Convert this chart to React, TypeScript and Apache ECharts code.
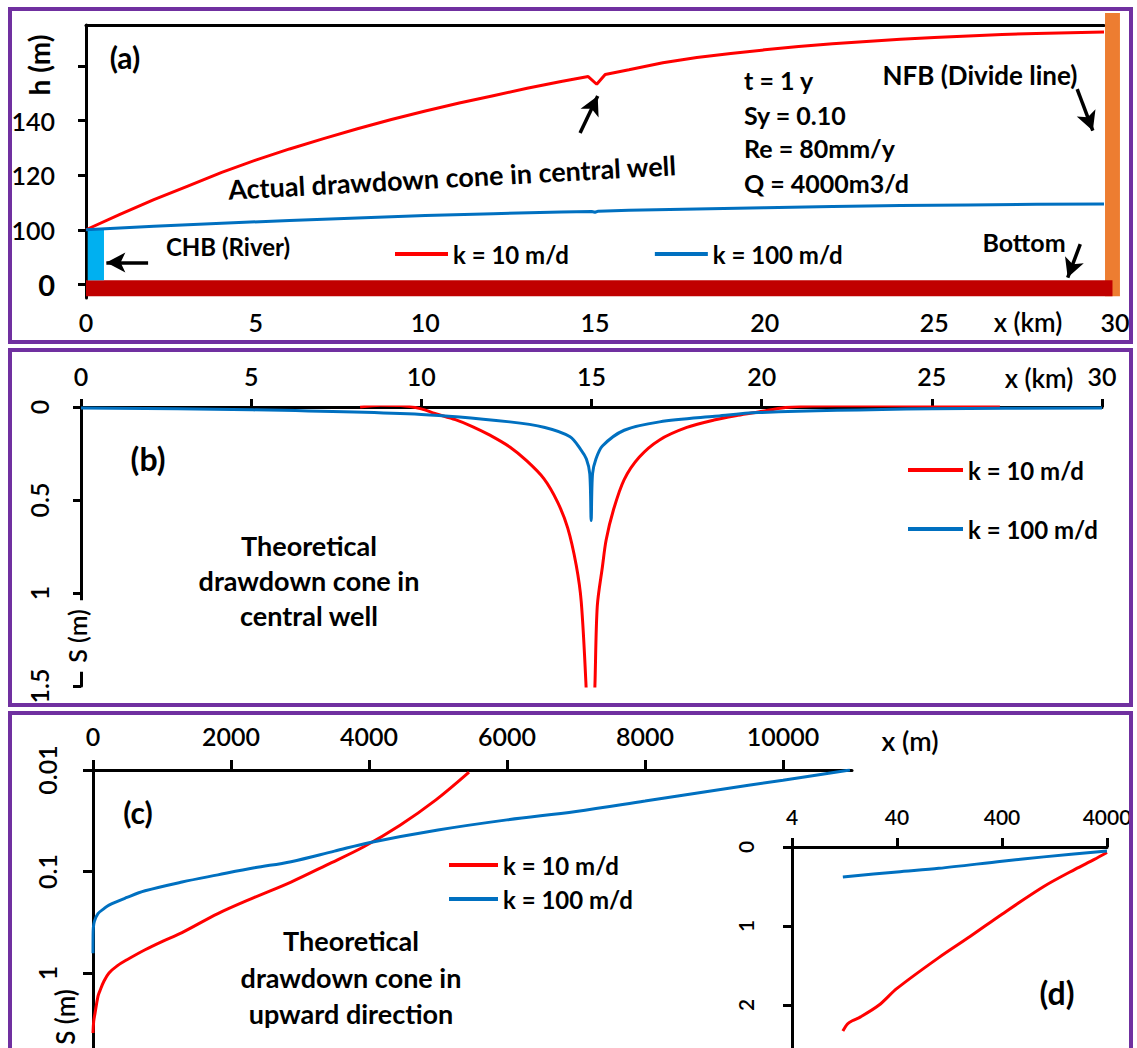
import React, { useEffect, useRef } from "react";
import * as echarts from "echarts";

// ---------- Panel (a): hydraulic head h (m) along x (km) ----------
const headK10: [number, number][] = [
  [0, 100], [1, 105.6], [2, 111], [3, 116], [4, 121], [5, 125.5], [6, 129.6], [7, 133.4],
  [8, 137], [9, 140.4], [10, 143.5], [11, 146.4], [12, 149.1], [13, 151.8], [14, 154.3],
  [14.8, 156.1], [15.05, 153.3], [15.3, 156.9], [16, 158.6], [17, 161.2], [18, 163.1],
  [19, 164.6], [20, 165.9], [21, 167.1], [22, 168.1], [23, 169], [24, 169.8], [25, 170.4],
  [26, 171], [27, 171.5], [28, 171.9], [29, 172.2], [30, 172.4],
];
const headK100: [number, number][] = [
  [0, 100], [2, 101.3], [4, 102.4], [6, 103.4], [8, 104.3], [10, 105.2], [12, 105.9],
  [14, 106.5], [14.9, 106.7], [15, 106.4], [15.1, 106.8], [16, 107.1], [18, 107.6],
  [20, 108.1], [22, 108.5], [24, 108.9], [26, 109.1], [28, 109.3], [30, 109.4],
];
// boundary blocks [x0 km, h0, x1 km, h1]: NFB, bottom, CHB
const boundaryBoxes: number[][] = [
  [30.03, 75.6, 30.47, 179.4],
  [0, 75.6, 30.25, 81.5],
  [0.05, 81.5, 0.53, 100],
];
const boundaryColors = ["#ED7D31", "#C00000", "#00B0F0"];
// arrows [x0, h0, x1, h1]
const arrowsA: number[][] = [
  [1.83, 88.0, 0.6, 88.0],
  [14.56, 135.4, 15.08, 149.0],
  [29.21, 151.5, 29.67, 136.3],
  [29.3, 94.7, 28.93, 82.5],
];
const hTicks = [80, 100, 120, 140, 160];
const hLabels = [80, 100, 120, 140];

// ---------- Panel (b): theoretical drawdown S (m) along x (km) ----------
const coneK10: [number, number][] = [
  [8.2, 0], [8.8, -0.01], [9.4, -0.008], [10, 0.01], [10.4, 0.035], [11, 0.068],
  [11.5, 0.105], [12, 0.15], [12.6, 0.215], [13.1, 0.29], [13.6, 0.385], [14, 0.51],
  [14.3, 0.65], [14.55, 0.85], [14.7, 1.05], [14.84, 1.5], [14.92, 1.9], [15.02, 1.9],
  [15.1, 1.5], [15.17, 1.07], [15.32, 0.86], [15.43, 0.715], [15.65, 0.55], [15.96, 0.39],
  [16.4, 0.27], [17, 0.177], [17.8, 0.11], [18.6, 0.07], [19.3, 0.045], [19.9, 0.027],
  [20.7, 0.003], [21.5, -0.005], [23, -0.008], [25, -0.006], [27, -0.003],
];
const coneK100: [number, number][] = [
  [0, 0.005], [5, 0.015], [10, 0.04], [12.6, 0.08], [13.63, 0.11], [14.37, 0.16],
  [14.69, 0.23], [14.85, 0.28], [14.95, 0.36], [14.99, 0.61], [15.03, 0.36], [15.13, 0.28],
  [15.32, 0.21], [15.96, 0.125], [17, 0.08], [18.63, 0.05], [19.9, 0.03], [25, 0.01],
  [30, 0.005],
];
const sTicksB = [0, 0.5, 1, 1.5];

// ---------- Panel (c): drawdown S (m) in upward direction, x (m) ----------
const upK10: [number, number][] = [
  [0, 3.9], [10, 3.0], [29, 2.5], [72, 1.7], [100, 1.5], [160, 1.2], [232, 1.0], [350, 0.85],
  [493, 0.74], [755, 0.59], [1000, 0.49], [1290, 0.4], [1810, 0.26], [2340, 0.18],
  [2870, 0.127], [3390, 0.086], [3925, 0.057], [4450, 0.035], [4970, 0.0197], [5450, 0.0105],
];
const upK100: [number, number][] = [
  [0, 0.64], [1, 0.45], [5, 0.36], [20, 0.31], [72, 0.26], [150, 0.235], [232, 0.214],
  [493, 0.18], [755, 0.155], [1290, 0.127], [1810, 0.108], [2340, 0.092], [2870, 0.08],
  [3500, 0.063], [4000, 0.052], [5000, 0.039], [6000, 0.031], [7000, 0.0256], [8000, 0.0202],
  [9000, 0.0159], [10000, 0.0126], [10970, 0.01],
];
const mTicks = [0, 2000, 4000, 6000, 8000, 10000];
const sTicksC = [0.01, 0.1, 1, 10];

// ---------- Panel (d): drawdown S (m) vs x (m), logarithmic x ----------
const logK10: [number, number][] = [
  [12.2, 2.33], [13.5, 2.24], [15, 2.2], [18, 2.15], [27, 2.0], [40, 1.79], [100, 1.4],
  [200, 1.13], [400, 0.85], [1000, 0.5], [2000, 0.28], [3000, 0.16], [4000, 0.07],
];
const logK100: [number, number][] = [
  [12.2, 0.38], [40, 0.315], [100, 0.27], [400, 0.18], [1000, 0.125], [4000, 0.05],
];
const dTicks = [4, 40, 400, 4000];

const K10 = "k = 10 m/d";
const K100 = "k = 100 m/d";
const RED = "#FF0000";
const BLUE = "#0070C0";
const FONT = "Lato";

const axLine = { show: true, onZero: false, lineStyle: { color: "#000", width: 3 } };
const tick = (len: number, extra: any = {}) => ({
  show: true, length: len, lineStyle: { color: "#000", width: 3 }, ...extra,
});
const lbl = (size: number, extra: any = {}) => ({
  show: true, color: "#000", fontSize: size, fontWeight: 600, fontFamily: FONT, ...extra,
});
const noSplit = { show: false };

// panel (c) S axis counts decades above the smallest tick (0.01 m)
const S0 = sTicksC[0];
const decadesC = Math.log10(sTicksC[sTicksC.length - 1] / S0);
const toDecade = (s: number) => Math.log10(s / S0);
const fromDecade = (v: number) => String(+(S0 * Math.pow(10, v)).toPrecision(2));

function line(name: string, color: string, data: any[], xi: number, yi: number, smooth = 0) {
  return {
    type: "line", name, data, xAxisIndex: xi, yAxisIndex: yi, showSymbol: false, smooth,
    symbol: "none", silent: true, z: 3, lineStyle: { color, width: 3 }, itemStyle: { color },
  };
}

function txt(text: string, x: number, y: number, size: number, o: any = {}) {
  return {
    type: "text", x, y, rotation: o.rot || 0, z: 60, silent: true,
    style: {
      text, fill: "#000", fontSize: size, fontWeight: o.w || "bold", fontFamily: FONT,
      textAlign: o.align || "center", textVerticalAlign: "middle",
      backgroundColor: o.bg, padding: o.pad,
    },
  };
}

function frame(y: number, h: number) {
  return {
    type: "rect", z: 70, silent: true, shape: { x: 10, y, width: 1121, height: h },
    style: { fill: "none", stroke: "#7030A0", lineWidth: 4 },
  };
}

export default function App() {
  const ref = useRef<HTMLDivElement>(null);
  useEffect(() => {
    if (!ref.current) return;
    const chart = echarts.init(ref.current, null, { renderer: "svg" });
    const legendText = (s: number) => ({ color: "#000", fontSize: s, fontWeight: "bold", fontFamily: FONT });
    const option: any = {
      animation: false,
      backgroundColor: "#fff",
      textStyle: { fontFamily: FONT },
      grid: [
        { left: 86, top: 25, width: 1018, height: 273, outerBoundsMode: "none" },
        { left: 81, top: 407, width: 1021, height: 279, outerBoundsMode: "none" },
        { left: 93, top: 770, width: 759, height: 304.5, outerBoundsMode: "none" },
        { left: 792, top: 847, width: 315, height: 237, outerBoundsMode: "none" },
      ],
      xAxis: [
        {
          gridIndex: 0, type: "value", min: 0, max: 30, interval: 5, position: "bottom",
          axisLine: { show: false }, axisTick: { show: false }, splitLine: noSplit,
          axisLabel: lbl(25, {
            margin: 11,
            formatter: (v: number) => (v === 30 ? "{r|30}" : String(v)),
            rich: { r: { padding: [0, 0, 0, 22], fontSize: 25, fontWeight: 600, color: "#000", fontFamily: FONT } },
          }),
        },
        {
          gridIndex: 0, type: "value", min: 0, max: 30, position: "top",
          axisLine: axLine, axisTick: { show: false }, axisLabel: { show: false }, splitLine: noSplit,
        },
        {
          gridIndex: 1, type: "value", min: 0, max: 30, interval: 5, position: "top",
          axisLine: axLine, axisTick: tick(8), splitLine: noSplit,
          axisLabel: lbl(25, { margin: 19 }),
        },
        {
          gridIndex: 2, type: "value", min: 0, max: 11000, position: "top",
          axisLine: axLine, axisTick: tick(10, { customValues: mTicks }), splitLine: noSplit,
          axisLabel: lbl(25, { margin: 22, customValues: mTicks, formatter: (v: number) => String(v) }),
        },
        {
          gridIndex: 3, type: "value", min: Math.log10(dTicks[0]), max: Math.log10(dTicks[dTicks.length - 1]),
          position: "top", axisLine: axLine, splitLine: noSplit,
          axisTick: tick(9, { customValues: dTicks.map((v) => Math.log10(v)) }),
          axisLabel: lbl(21, {
            margin: 20, customValues: dTicks.map((v) => Math.log10(v)),
            formatter: (v: number) => String(Math.round(Math.pow(10, v))),
          }),
        },
      ],
      yAxis: [
        {
          gridIndex: 0, type: "value", min: 75, max: 175, axisLine: axLine, splitLine: noSplit,
          axisTick: tick(8, { customValues: hTicks }),
          axisLabel: lbl(25, {
            margin: 31, customValues: hLabels,
            formatter: (v: number) => (v === 80 ? "{z|0}" : String(v)),
            rich: { z: { fontSize: 29, fontWeight: "bold", color: "#000", fontFamily: FONT } },
          }),
        },
        {
          gridIndex: 1, type: "value", min: 0, max: 1.5, interval: 0.5, inverse: true,
          axisLine: axLine, axisTick: tick(8), splitLine: noSplit,
          axisLabel: lbl(25, { margin: 30, rotate: 90, customValues: sTicksB }),
        },
        {
          gridIndex: 2, type: "value", min: 0, max: decadesC, interval: 1, inverse: true,
          axisLine: axLine, axisTick: tick(10), splitLine: noSplit,
          axisLabel: lbl(25, {
            margin: 34, rotate: 90,
            formatter: (v: number) => (v >= decadesC ? "" : fromDecade(v)),
          }),
        },
        {
          gridIndex: 3, type: "value", min: 0, max: 3, interval: 1, inverse: true,
          axisLine: axLine, axisTick: tick(9), splitLine: noSplit,
          axisLabel: lbl(21, { margin: 36, rotate: 90, formatter: (v: number) => (v >= 3 ? "" : String(v)) }),
        },
      ],
      legend: [
        {
          left: 395, top: 242, orient: "horizontal", itemWidth: 53, itemHeight: 4, itemGap: 86,
          icon: "rect", padding: 0, selectedMode: false, data: [K10, K100], textStyle: legendText(24),
        },
        {
          left: 908, top: 458, orient: "vertical", itemWidth: 55, itemHeight: 4, itemGap: 35,
          icon: "rect", padding: 0, selectedMode: false, data: [K10, K100], textStyle: legendText(24),
        },
        {
          left: 449, top: 853, orient: "vertical", itemWidth: 49, itemHeight: 4, itemGap: 10,
          icon: "rect", padding: 0, selectedMode: false, data: [K10, K100], textStyle: legendText(24),
        },
      ],
      series: [
        {
          type: "custom", name: "boundaries", xAxisIndex: 0, yAxisIndex: 0, clip: false, silent: true, z: 1,
          data: boundaryBoxes, encode: { x: [0, 2], y: [1, 3] },
          renderItem: (params: any, api: any) => {
            const p0 = api.coord([api.value(0), api.value(1)]);
            const p1 = api.coord([api.value(2), api.value(3)]);
            return {
              type: "rect",
              shape: {
                x: Math.min(p0[0], p1[0]), y: Math.min(p0[1], p1[1]),
                width: Math.abs(p1[0] - p0[0]), height: Math.abs(p1[1] - p0[1]),
              },
              style: { fill: boundaryColors[params.dataIndex] },
            };
          },
          markLine: {
            silent: true, symbol: ["none", "arrow"], symbolSize: [15, 19], animation: false,
            label: { show: false }, lineStyle: { color: "#000", width: 3.5, type: "solid" },
            itemStyle: { color: "#000" }, emphasis: { disabled: true },
            data: arrowsA.map((a) => [{ coord: [a[0], a[1]] }, { coord: [a[2], a[3]] }]),
          },
        },
        line(K10, RED, headK10, 0, 0),
        line(K100, BLUE, headK100, 0, 0),
        line(K10, RED, coneK10, 2, 1, 0.3),
        line(K100, BLUE, coneK100, 2, 1, 0.3),
        line(K10, RED, upK10.map(([x, s]) => [x, toDecade(s)]), 3, 2, 0.35),
        line(K100, BLUE, upK100.map(([x, s]) => [x, toDecade(s)]), 3, 2, 0.35),
        line(K10, RED, logK10.map(([x, s]) => [Math.log10(x), s]), 4, 3, 0.3),
        line(K100, BLUE, logK100.map(([x, s]) => [Math.log10(x), s]), 4, 3, 0.3),
      ],
      graphic: [
        frame(9, 333),
        frame(350, 355),
        frame(713, 400),
        // panel (a)
        txt("(a)", 125, 57, 30),
        txt("h (m)", 39, 65, 28, { rot: Math.PI / 2 }),
        txt("Actual drawdown cone in central well", 452, 177, 27, { rot: 0.055 }),
        txt("t = 1 y", 744, 80, 25, { align: "left" }),
        txt("Sy = 0.10", 744, 115, 25, { align: "left" }),
        txt("Re = 80mm/y", 744, 148, 25, { align: "left" }),
        txt("Q = 4000m3/d", 744, 183, 25, { align: "left" }),
        txt("NFB (Divide line)", 980, 75, 26),
        txt("CHB (River)", 228, 246, 24),
        txt("Bottom", 1024, 242, 25),
        txt("x (km)", 1028, 322, 26, { w: 600 }),
        // panel (b)
        txt("(b)", 148, 458, 32),
        txt("Theoretical", 309, 545, 27),
        txt("drawdown cone in", 309, 580, 27),
        txt("central well", 309, 615, 27),
        txt("x (km)", 1039, 378, 26, { w: 600 }),
        txt("S (m)", 77, 636, 25, { rot: Math.PI / 2, w: 600, bg: "#fff", pad: [1, 9, 1, 9] }),
        // panel (c)
        txt("(c)", 138, 812, 30),
        txt("Theoretical", 351, 940, 27),
        txt("drawdown cone in", 351, 977, 27),
        txt("upward direction", 351, 1013, 27),
        txt("x (m)", 910, 740, 27, { w: 600 }),
        txt("S (m)", 65, 1017, 26, { rot: Math.PI / 2, w: 600 }),
        // panel (d)
        txt("(d)", 1057, 992, 32),
      ],
    };
    chart.setOption(option);
    return () => chart.dispose();
  }, []);
  return (
    <div
      ref={ref}
      style={{ position: "absolute", left: 0, top: 0, width: 1137, height: 1048, background: "#fff" }}
    />
  );
}
